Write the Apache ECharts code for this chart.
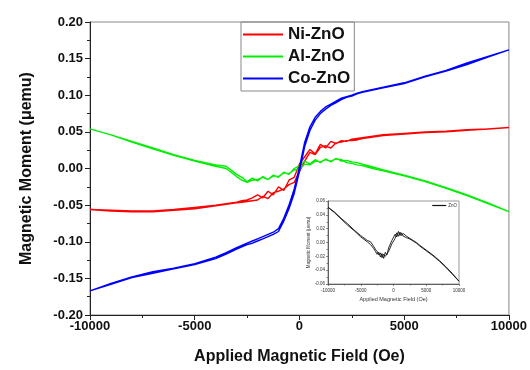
<!DOCTYPE html>
<html>
<head>
<meta charset="utf-8">
<script src="https://cdn.jsdelivr.net/npm/echarts@6/dist/echarts.min.js"></script>
<style>
  html, body { margin: 0; padding: 0; background: #fff; }
  #chart { width: 530px; height: 370px; }
</style>
</head>
<body>
<div id="chart"></div>
<script>
// applied field (Oe), shared by every loop
const field = [-10000, -9000, -8000, -7000, -6000, -5000, -4000, -3500, -3000, -2750,
  -2500, -2250, -2000, -1750, -1500, -1250, -1000, -750, -500, -250,
  0, 250, 500, 750, 1000, 1250, 1500, 1750, 2000, 2250,
  2500, 2750, 3000, 3500, 4000, 5000, 6000, 7000, 8000, 9000, 10000]

// moment (uemu): "down" = sweep from +H to -H, "up" = sweep back
const niDown = [-0.056, -0.057, -0.058, -0.058, -0.056, -0.053, -0.050, -0.048, -0.046, -0.044,
  -0.043, -0.040, -0.036, -0.040, -0.031, -0.036, -0.025, -0.030, -0.016, -0.012,
  0.006, 0.016, 0.026, 0.020, 0.033, 0.028, 0.037, 0.034, 0.038, 0.037,
  0.040, 0.041, 0.042, 0.044, 0.046, 0.048, 0.050, 0.051, 0.053, 0.054, 0.056]
const niUp = [-0.056, -0.058, -0.059, -0.059, -0.057, -0.055, -0.051, -0.049, -0.047, -0.046,
  -0.045, -0.044, -0.043, -0.038, -0.041, -0.033, -0.031, -0.028, -0.022, -0.019,
  -0.004, 0.010, 0.022, 0.019, 0.029, 0.031, 0.028, 0.035, 0.036, 0.038,
  0.038, 0.039, 0.041, 0.043, 0.045, 0.047, 0.049, 0.050, 0.052, 0.054, 0.056]

const alDown = [0.054, 0.046, 0.037, 0.028, 0.019, 0.011, 0.005, 0.003, -0.008, -0.012,
  -0.018, -0.013, -0.017, -0.011, -0.015, -0.009, -0.012, -0.005, -0.008, 0.000,
  0.004, 0.010, 0.006, 0.012, 0.008, 0.013, 0.009, 0.014, 0.010, 0.011,
  0.009, 0.008, 0.006, 0.002, -0.002, -0.009, -0.017, -0.026, -0.036, -0.047, -0.059]
const alUp = [0.054, 0.046, 0.036, 0.027, 0.018, 0.010, 0.003, 0.000, -0.011, -0.016,
  -0.019, -0.016, -0.015, -0.012, -0.015, -0.010, -0.011, -0.006, -0.007, -0.002,
  -0.001, 0.006, 0.005, 0.010, 0.009, 0.012, 0.010, 0.013, 0.012, 0.008,
  0.007, 0.005, 0.004, 0.000, -0.003, -0.010, -0.018, -0.027, -0.037, -0.048, -0.059]

const coDown = [-0.167, -0.157, -0.148, -0.141, -0.136, -0.130, -0.121, -0.115, -0.108, -0.105,
  -0.102, -0.099, -0.096, -0.093, -0.090, -0.087, -0.082, -0.068, -0.050, -0.028,
  0.002, 0.036, 0.057, 0.070, 0.078, 0.084, 0.088, 0.092, 0.096, 0.098,
  0.100, 0.103, 0.105, 0.108, 0.111, 0.117, 0.126, 0.134, 0.144, 0.153, 0.162]
const coUp = [-0.167, -0.158, -0.149, -0.143, -0.137, -0.131, -0.123, -0.117, -0.110, -0.107,
  -0.104, -0.102, -0.099, -0.096, -0.093, -0.090, -0.086, -0.072, -0.055, -0.034,
  -0.004, 0.030, 0.052, 0.066, 0.075, 0.081, 0.086, 0.090, 0.094, 0.097,
  0.099, 0.102, 0.104, 0.107, 0.110, 0.116, 0.125, 0.133, 0.142, 0.152, 0.162]

// inset: undoped ZnO
const znoDown = [0.051, 0.044, 0.035, 0.027, 0.018, 0.010, 0.003, 0.001, -0.006, -0.010,
  -0.013, -0.018, -0.015, -0.022, -0.017, -0.020, -0.012, -0.013, -0.004, -0.002,
  0.008, 0.006, 0.014, 0.009, 0.015, 0.010, 0.013, 0.009, 0.009, 0.007,
  0.006, 0.005, 0.003, 0.000, -0.004, -0.011, -0.018, -0.026, -0.035, -0.045, -0.056]
const znoUp = [0.051, 0.043, 0.034, 0.025, 0.017, 0.008, 0.001, -0.003, -0.009, -0.013,
  -0.017, -0.014, -0.021, -0.016, -0.023, -0.014, -0.018, -0.008, -0.010, 0.003,
  0.002, 0.012, 0.008, 0.016, 0.010, 0.014, 0.009, 0.011, 0.007, 0.006,
  0.005, 0.004, 0.002, -0.001, -0.005, -0.012, -0.019, -0.027, -0.036, -0.046, -0.056]

const FONT = 'Liberation Sans, Arial, sans-serif'

// one closed loop: down branch (+H -> -H) then up branch (-H -> +H)
function loop(down, up) {
  const pts = []
  for (let i = field.length - 1; i >= 0; i--) pts.push([field[i], down[i]])
  for (let i = 0; i < field.length; i++) pts.push([field[i], up[i]])
  return pts
}

function mainSeries(name, color, down, up) {
  return {
    name, type: 'line', xAxisIndex: 0, yAxisIndex: 0,
    data: loop(down, up),
    symbol: 'none', showSymbol: false,
    lineStyle: { color, width: 1.4 },
    itemStyle: { color },
  }
}

const chart = echarts.init(document.getElementById('chart'))

chart.setOption({
  animation: false,
  backgroundColor: '#fff',
  legend: [
    {
      data: ['Ni-ZnO', 'Al-ZnO', 'Co-ZnO'],
      orient: 'vertical',
      left: 241, top: 22,
      padding: [4, 4, 4, 2],
      itemGap: 5,
      icon: 'rect',
      itemWidth: 40, itemHeight: 2,
      borderColor: '#888', borderWidth: 1,
      textStyle: { fontFamily: FONT, fontWeight: 'bold', fontSize: 17, color: '#111', lineHeight: 17 },
    },
    {
      data: ['ZnO'],
      right: 72, top: 202,
      padding: 1,
      icon: 'rect',
      itemWidth: 14, itemHeight: 1.2,
      textStyle: { fontFamily: FONT, fontSize: 4.5, color: '#333', padding: [0, 0, 0, -3] },
    },
  ],
  grid: [
    { left: 90, right: 20, top: 22, bottom: 53, show: true, borderColor: '#888', borderWidth: 1 },
    { left: 328, right: 71, top: 201, bottom: 86, show: true, borderColor: '#999', borderWidth: 1, backgroundColor: '#fff' },
  ],
  xAxis: [
    {
      gridIndex: 0, type: 'value',
      min: -10000, max: 10000, interval: 5000,
      name: 'Applied Magnetic Field (Oe)',
      nameLocation: 'middle', nameGap: 34,
      nameTextStyle: { fontFamily: FONT, fontWeight: 'bold', fontSize: 16, color: '#111' },
      axisLine: { onZero: false, lineStyle: { color: '#222', width: 1 } },
      axisTick: { inside: false, length: 5, lineStyle: { color: '#222' } },
      minorTick: { show: true, splitNumber: 2, length: 3, lineStyle: { color: '#222' } },
      axisLabel: {
        fontFamily: FONT, fontWeight: 'bold', fontSize: 13, color: '#111', margin: 5,
        formatter: (v) => String(v),
      },
      splitLine: { show: false },
    },
    {
      gridIndex: 1, type: 'value',
      min: -10000, max: 10000, interval: 5000,
      name: 'Applied Magnetic Field (Oe)',
      nameLocation: 'middle', nameGap: 12,
      nameTextStyle: { fontFamily: FONT, fontSize: 5.5, color: '#333' },
      axisLine: { onZero: false, lineStyle: { color: '#444', width: 0.8 } },
      axisTick: { inside: false, length: 2, lineStyle: { color: '#444', width: 0.6 } },
      minorTick: { show: true, splitNumber: 2, length: 1.5, lineStyle: { color: '#444', width: 0.6 } },
      axisLabel: {
        fontFamily: FONT, fontSize: 4.5, color: '#333', margin: 4,
        formatter: (v) => String(v),
      },
      splitLine: { show: false },
    },
  ],
  yAxis: [
    {
      gridIndex: 0, type: 'value',
      min: -0.2, max: 0.2, interval: 0.05,
      name: 'Magnetic Moment (\u03bcemu)',
      nameLocation: 'middle', nameGap: 55, nameRotate: 90,
      nameTextStyle: { fontFamily: FONT, fontWeight: 'bold', fontSize: 16, color: '#111' },
      axisLine: { show: true, onZero: false, lineStyle: { color: '#222', width: 1 } },
      axisTick: { show: true, inside: false, length: 5, lineStyle: { color: '#222' } },
      minorTick: { show: true, splitNumber: 2, length: 3, lineStyle: { color: '#222' } },
      axisLabel: {
        fontFamily: FONT, fontWeight: 'bold', fontSize: 13, color: '#111', margin: 7,
        formatter: (v) => v.toFixed(2),
      },
      splitLine: { show: false },
    },
    {
      gridIndex: 1, type: 'value',
      min: -0.06, max: 0.06, interval: 0.02,
      name: 'Magnetic Moment (\u03bcemu)',
      nameLocation: 'middle', nameGap: 16, nameRotate: 90,
      nameTextStyle: { fontFamily: FONT, fontSize: 4.5, color: '#333' },
      axisLine: { show: true, onZero: false, lineStyle: { color: '#444', width: 0.8 } },
      axisTick: { show: true, inside: false, length: 2, lineStyle: { color: '#444', width: 0.6 } },
      minorTick: { show: true, splitNumber: 2, length: 1.5, lineStyle: { color: '#444', width: 0.6 } },
      axisLabel: {
        fontFamily: FONT, fontSize: 4.5, color: '#333', margin: 3,
        formatter: (v) => v.toFixed(2),
      },
      splitLine: { show: false },
    },
  ],
  series: [
    mainSeries('Ni-ZnO', '#ff0000', niDown, niUp),
    mainSeries('Al-ZnO', '#00ee00', alDown, alUp),
    mainSeries('Co-ZnO', '#0000ff', coDown, coUp),
    {
      name: 'ZnO', type: 'line', xAxisIndex: 1, yAxisIndex: 1,
      data: loop(znoDown, znoUp),
      symbol: 'none', showSymbol: false,
      lineStyle: { color: '#111', width: 0.9 },
      itemStyle: { color: '#111' },
    },
  ],
})
</script>
</body>
</html>
